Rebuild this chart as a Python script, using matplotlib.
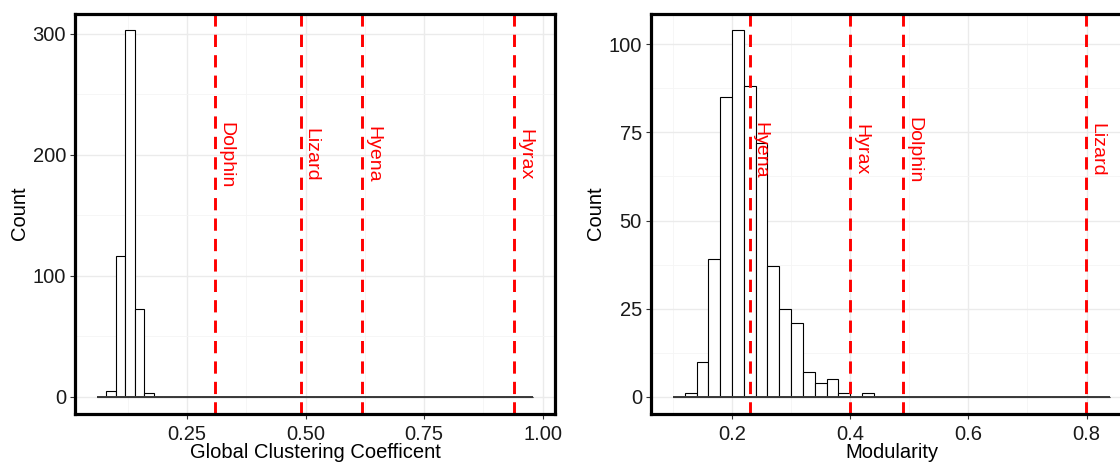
import matplotlib
matplotlib.use("Agg")
import matplotlib.pyplot as plt
from matplotlib.ticker import MultipleLocator
import matplotlib.transforms as mtransforms

plt.rcParams['font.family'] = ['Liberation Sans', 'DejaVu Sans']

# ---------------- data ----------------
bin_width = 0.02

gcc_bin_start = 0.06
gcc_counts = [0, 5, 116, 303, 73, 3, 0, 0, 0, 0,
              0, 0, 0, 0, 0, 0, 0, 0, 0, 0,
              0, 0, 0, 0, 0, 0, 0, 0, 0, 0,
              0, 0, 0, 0, 0, 0, 0, 0, 0, 0,
              0, 0, 0, 0, 0, 0]
gcc_species = ["Dolphin", "Lizard", "Hyena", "Hyrax"]
gcc_values = [0.309, 0.490, 0.619, 0.940]
gcc_xticks = [0.25, 0.50, 0.75, 1.00]
gcc_xticklabels = ["0.25", "0.50", "0.75", "1.00"]
gcc_yticks = [0, 100, 200, 300]
gcc_label_y = 200

mod_bin_start = 0.10
mod_counts = [0, 1, 10, 39, 85, 104, 88, 72, 37, 25,
              21, 7, 4, 5, 1, 0, 1, 0, 0, 0,
              0, 0, 0, 0, 0, 0, 0, 0, 0, 0,
              0, 0, 0, 0, 0, 0, 0]
mod_species = ["Hyena", "Hyrax", "Dolphin", "Lizard"]
mod_values = [0.230, 0.400, 0.490, 0.799]
mod_xticks = [0.2, 0.4, 0.6, 0.8]
mod_xticklabels = ["0.2", "0.4", "0.6", "0.8"]
mod_yticks = [0, 25, 50, 75, 100]
mod_label_y = 70

# ---------------- figure ----------------
W, H = 1120, 463
fig = plt.figure(figsize=(W / 100, H / 100), dpi=100)

def px_axes(x0, x1, y_top, y_bot):
    return fig.add_axes([x0 / W, 1 - y_bot / H, (x1 - x0) / W, (y_bot - y_top) / H])

ax1 = px_axes(75, 555, 13.5, 413.5)
ax2 = px_axes(651, 1132, 13.5, 413.5)


def draw(ax, start, counts, species, values, xticks, xticklabels, yticks,
         label_y, xlabel, xminor, yminor):
    lefts = [start + i * bin_width for i in range(len(counts))]
    ax.bar(lefts, counts, width=bin_width, align='edge', facecolor='white',
           edgecolor='black', linewidth=0.8, zorder=2)
    ax.plot([lefts[0], lefts[-1] + bin_width], [0, 0], color='#3a3a3a',
            lw=1.4, zorder=2.5, solid_capstyle='butt')
    lo = lefts[0]
    hi = lefts[-1] + bin_width
    span = hi - lo
    ax.set_xlim(lo - 0.05 * span, hi + 0.05 * span)
    ymax = max(counts)
    ax.set_ylim(-0.045 * ymax, ymax * 1.045)

    offset = mtransforms.offset_copy(ax.transData, fig=fig, x=2.0, y=0, units='dots')
    for name, v in zip(species, values):
        ax.axvline(v, color='#FF0000', lw=2.1, linestyle=(0, (4.2, 2.8)), zorder=3)
        ax.text(v, label_y, name, rotation=270, color='#FF0000', fontsize=14,
                ha='left', va='center', transform=offset, zorder=4)

    ax.set_xticks(xticks)
    ax.set_xticklabels(xticklabels)
    ax.set_yticks(yticks)
    ax.xaxis.set_minor_locator(MultipleLocator(xminor))
    ax.yaxis.set_minor_locator(MultipleLocator(yminor))
    ax.grid(True, which='major', color='#EBEBEB', lw=1.0, zorder=0)
    ax.grid(True, which='minor', color='#F5F5F5', lw=0.6, zorder=0)
    ax.set_axisbelow(True)
    ax.tick_params(which='major', length=3.5, width=0.8, color='#333333',
                   labelsize=14.5, labelcolor='#1a1a1a', pad=3)
    ax.tick_params(axis='x', which='major', pad=4.5)
    ax.tick_params(which='minor', length=0)
    for s in ax.spines.values():
        s.set_linewidth(2.3)
        s.set_color('black')
        s.set_zorder(5)
    ax.set_xlabel(xlabel, fontsize=14.5, color='black', labelpad=-0.5)
    ax.set_ylabel("Count", fontsize=14.5, color='black', labelpad=2.5)


draw(ax1, gcc_bin_start, gcc_counts, gcc_species, gcc_values, gcc_xticks,
     gcc_xticklabels, gcc_yticks, gcc_label_y, "Global Clustering Coefficent", 0.125, 50)
draw(ax2, mod_bin_start, mod_counts, mod_species, mod_values, mod_xticks,
     mod_xticklabels, mod_yticks, mod_label_y, "Modularity", 0.1, 12.5)

fig.savefig("out.png", dpi=100)
